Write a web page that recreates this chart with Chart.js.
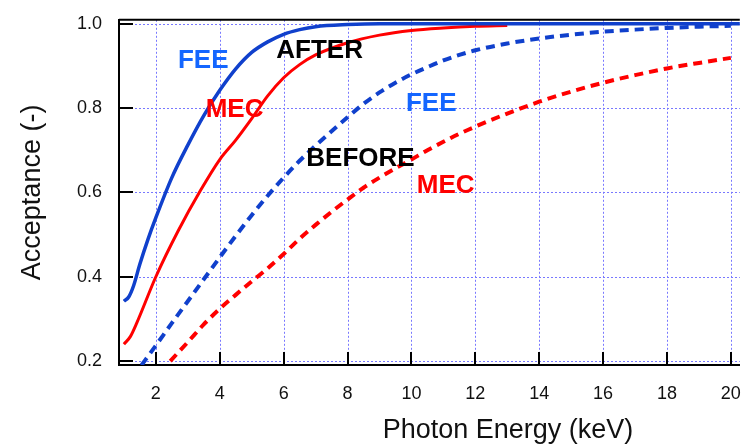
<!DOCTYPE html>
<html>
<head>
<meta charset="utf-8">
<script src="https://cdn.jsdelivr.net/npm/chart.js@4.4.1/dist/chart.umd.min.js"></script>
<style>
  html, body { margin: 0; padding: 0; background: #fff; }
  #wrap { width: 751px; height: 446px; }
</style>
</head>
<body>
<div id="wrap"><canvas id="acc" width="751" height="446"></canvas></div>
<script>
// photon energy (keV) and acceptance
const feeAfterE  = [1.0, 1.15, 1.3, 1.5, 1.75, 2.0, 2.5, 3.0, 3.5, 4.0, 4.5, 5.0, 5.5, 6.0, 6.5, 7.0, 8.0, 9.0, 10, 12, 14, 16, 18, 20.3]
const feeAfterA  = [0.342, 0.352, 0.378, 0.43, 0.488, 0.54, 0.635, 0.712, 0.782, 0.842, 0.893, 0.932, 0.957, 0.975, 0.986, 0.993, 0.998, 1.0, 1.0, 1.0, 1.0, 1.0, 1.0, 1.0]

const mecAfterE  = [1.0, 1.2, 1.4, 2.0, 2.7, 3.4, 4.0, 4.5, 5.0, 5.5, 6.0, 6.5, 7.0, 8.0, 9.0, 10.0, 11.0, 12.0, 13.0]
const mecAfterA  = [0.24, 0.258, 0.29, 0.40, 0.509, 0.605, 0.678, 0.724, 0.775, 0.829, 0.872, 0.903, 0.926, 0.955, 0.973, 0.984, 0.99, 0.994, 0.996]

const feeBeforeE = [1.55, 2.0, 2.5, 3.0, 3.5, 4.0, 4.5, 5.0, 5.5, 6.0, 6.5, 7.0, 7.5, 8.0, 8.5, 9.0, 9.5, 10, 10.5, 11, 11.5, 12, 13, 14, 15, 16, 17, 18, 19, 20]
const feeBeforeA = [0.19, 0.237, 0.29, 0.342, 0.394, 0.446, 0.497, 0.546, 0.592, 0.635, 0.675, 0.711, 0.745, 0.778, 0.81, 0.837, 0.86, 0.88, 0.897, 0.913, 0.926, 0.937, 0.953, 0.965, 0.974, 0.981, 0.986, 0.99, 0.993, 0.995]

const mecBeforeE = [2.45, 3.0, 3.5, 4.0, 4.5, 5.0, 5.5, 6.0, 6.5, 7.0, 7.5, 8.0, 8.5, 9.0, 9.5, 10, 10.5, 11, 11.5, 12, 13, 14, 15, 16, 17, 18, 19, 20]
const mecBeforeA = [0.2, 0.245, 0.287, 0.324, 0.357, 0.389, 0.42, 0.454, 0.49, 0.523, 0.554, 0.583, 0.611, 0.635, 0.657, 0.678, 0.7, 0.72, 0.739, 0.756, 0.787, 0.815, 0.839, 0.86, 0.878, 0.894, 0.907, 0.919]

const xTicks = [2, 4, 6, 8, 10, 12, 14, 16, 18, 20]
const yTicks = [0.2, 0.4, 0.6, 0.8, 1.0]

// in-plot labels, anchored in data coordinates (left edge, baseline)
const notes = [
  { text: 'FEE',    x: 2.69,  y: 0.895, color: '#1466ff' },
  { text: 'MEC',    x: 3.56,  y: 0.779, color: '#ff0000' },
  { text: 'AFTER',  x: 5.77,  y: 0.919, color: '#000000' },
  { text: 'FEE',    x: 9.83,  y: 0.793, color: '#1466ff' },
  { text: 'BEFORE', x: 6.71,  y: 0.663, color: '#000000' },
  { text: 'MEC',    x: 10.17, y: 0.598, color: '#ff0000' }
]

const pts = (xs, ys) => xs.map((v, i) => ({ x: v, y: ys[i] }))

const blue = '#1040cc'
const red = '#ff0000'
const FONT = '"Liberation Sans", Arial, sans-serif'

const frame = {
  id: 'frame',
  beforeDatasetsDraw(chart) {
    // dotted grid
    const { ctx, chartArea: a, scales: { x, y } } = chart
    ctx.save()
    ctx.strokeStyle = '#7878ff'
    ctx.lineWidth = 1
    ctx.setLineDash([2, 2])
    ctx.beginPath()
    x.ticks.forEach(t => {
      const px = Math.round(x.getPixelForValue(t.value)) + 0.5
      ctx.moveTo(px, a.top)
      ctx.lineTo(px, a.bottom)
    })
    y.ticks.forEach(t => {
      const py = Math.round(y.getPixelForValue(t.value)) + 0.5
      ctx.moveTo(a.left, py)
      ctx.lineTo(a.right, py)
    })
    ctx.stroke()
    ctx.restore()
  },
  afterDatasetsDraw(chart) {
    const { ctx, chartArea: a, scales: { x, y } } = chart
    ctx.save()
    ctx.strokeStyle = '#000'
    ctx.lineWidth = 2
    ctx.beginPath()
    ctx.moveTo(a.left, a.top)
    ctx.lineTo(a.right, a.top)
    y.ticks.forEach(t => {
      const py = Math.round(y.getPixelForValue(t.value))
      ctx.moveTo(a.left, py)
      ctx.lineTo(a.left + 14, py)
    })
    x.ticks.forEach(t => {
      const px = Math.round(x.getPixelForValue(t.value))
      ctx.moveTo(px, a.bottom)
      ctx.lineTo(px, a.bottom - 13)
    })
    ctx.stroke()

    ctx.font = 'bold 26px ' + FONT
    ctx.textAlign = 'left'
    ctx.textBaseline = 'alphabetic'
    notes.forEach(n => {
      ctx.fillStyle = n.color
      ctx.fillText(n.text, x.getPixelForValue(n.x), y.getPixelForValue(n.y))
    })

    // axis titles
    ctx.fillStyle = '#111'
    ctx.font = '27px ' + FONT
    ctx.textAlign = 'center'
    ctx.textBaseline = 'middle'
    ctx.fillText('Photon Energy (keV)', 508, 431)
    ctx.translate(33, (a.top + a.bottom) / 2)
    ctx.rotate(-Math.PI / 2)
    ctx.fillText('Acceptance (-)', 0, 0)
    ctx.restore()
  }
}

new Chart(document.getElementById('acc'), {
  type: 'line',
  data: {
    datasets: [
      { label: 'FEE after',  data: pts(feeAfterE, feeAfterA),   borderColor: blue, borderWidth: 3.5 },
      { label: 'MEC after',  data: pts(mecAfterE, mecAfterA),   borderColor: red,  borderWidth: 3 },
      { label: 'FEE before', data: pts(feeBeforeE, feeBeforeA), borderColor: blue, borderWidth: 4, borderDash: [9, 6] },
      { label: 'MEC before', data: pts(mecBeforeE, mecBeforeA), borderColor: red,  borderWidth: 4, borderDash: [9, 6] }
    ]
  },
  options: {
    responsive: false,
    animation: false,
    devicePixelRatio: 1,
    layout: { padding: { top: 13, right: 9, left: 0, bottom: 0 } },
    elements: {
      point: { radius: 0 },
      line: { cubicInterpolationMode: 'monotone', fill: false }
    },
    plugins: { legend: { display: false }, tooltip: { enabled: false } },
    scales: {
      x: {
        type: 'linear',
        min: 0.846,
        max: 20.28,
        afterBuildTicks: s => { s.ticks = xTicks.map(v => ({ value: v })) },
        afterFit: s => { s.height = 81 },
        ticks: { font: { family: FONT, size: 18 }, color: '#111', padding: 10, maxRotation: 0 },
        grid: { display: false },
        border: { color: '#000', width: 2 }
      },
      y: {
        min: 0.1907,
        max: 1.0093,
        afterBuildTicks: s => { s.ticks = yTicks.map(v => ({ value: v })) },
        afterFit: s => { s.width = 119 },
        ticks: { font: { family: FONT, size: 18 }, color: '#111', padding: 9, callback: v => v.toFixed(1) },
        grid: { display: false },
        border: { color: '#000', width: 2 }
      }
    }
  },
  plugins: [frame]
})
</script>
</body>
</html>
